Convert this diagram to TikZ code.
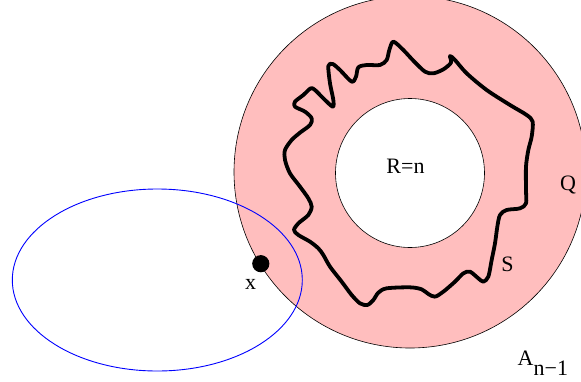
\documentclass[tikz,border=0pt]{standalone}
\usepackage{fontspec}
\setmainfont{Liberation Serif}
\definecolor{pinkfill}{RGB}{255,190,190}
\begin{document}
\begin{tikzpicture}[x=1pt,y=-1pt,
  lbl/.style={inner sep=0pt,font=\fontsize{22}{26}\selectfont},
  wavy/.style={line width=3.8pt,line join=round,line cap=round}]
\useasboundingbox (0,0) rectangle (581,381);
% outer annulus
\node[circle,draw=black,line width=0.6pt,fill=pinkfill,minimum size=352pt,inner sep=0pt] (outer) at (410,172) {};
\node[circle,draw=black,line width=0.6pt,fill=white,minimum size=149pt,inner sep=0pt] (inner) at (410,173) {};
% wavy closed curve S
\begin{scope}[shift={(280,40)},scale=1/3]
\draw[wavy] plot[smooth cycle,tension=0.5] coordinates {
(340,5) (370,30) (400,62) (435,95) (460,100) (490,88) (513,68) (510,48) (525,60)
(560,100) (620,150) (690,195) (740,225) (758,245) (755,290) (745,330) (738,380)
(738,450) (738,490) (720,505) (680,510) (660,525) (652,560) (645,610) (635,660)
(625,710) (610,725) (595,715) (570,695) (550,700) (525,725) (490,755) (465,770)
(445,762) (425,748) (390,742) (320,745) (295,758) (280,780) (262,795) (240,790)
(215,765) (185,725) (150,680) (130,645) (115,625) (90,605) (55,585) (42,570)
(55,550) (85,525) (95,500) (85,475) (60,440) (30,400) (15,360) (15,330) (35,300)
(60,278) (90,255) (95,235) (75,215) (45,200) (45,185) (70,165) (92,145) (105,150)
(130,175) (158,200) (160,180) (150,130) (145,78) (158,72) (180,90) (215,125)
(228,110) (235,82) (260,75) (300,75) (320,60) (328,30)};
\end{scope}
% blue ellipse
\draw[blue,line width=0.9pt] (157.3,280) ellipse [x radius=145,y radius=91];
% point x
\fill (260.8,263.7) circle (8.6);
\coordinate (dot) at (260.8,263.7);
% labels
\node[lbl,anchor=base] (rn) at (405.5,173) {R=n};
\node[lbl,anchor=base] (q) at (568,190.5) {Q};
\node[lbl,anchor=base] (s) at (507.5,271.7) {S};
\node[lbl,anchor=base] (xl) at (250.5,289) {x};
\node[lbl,anchor=base west] (a) at (517.5,365) {A\raisebox{-10pt}{n−1}};
\end{tikzpicture}
\end{document}
